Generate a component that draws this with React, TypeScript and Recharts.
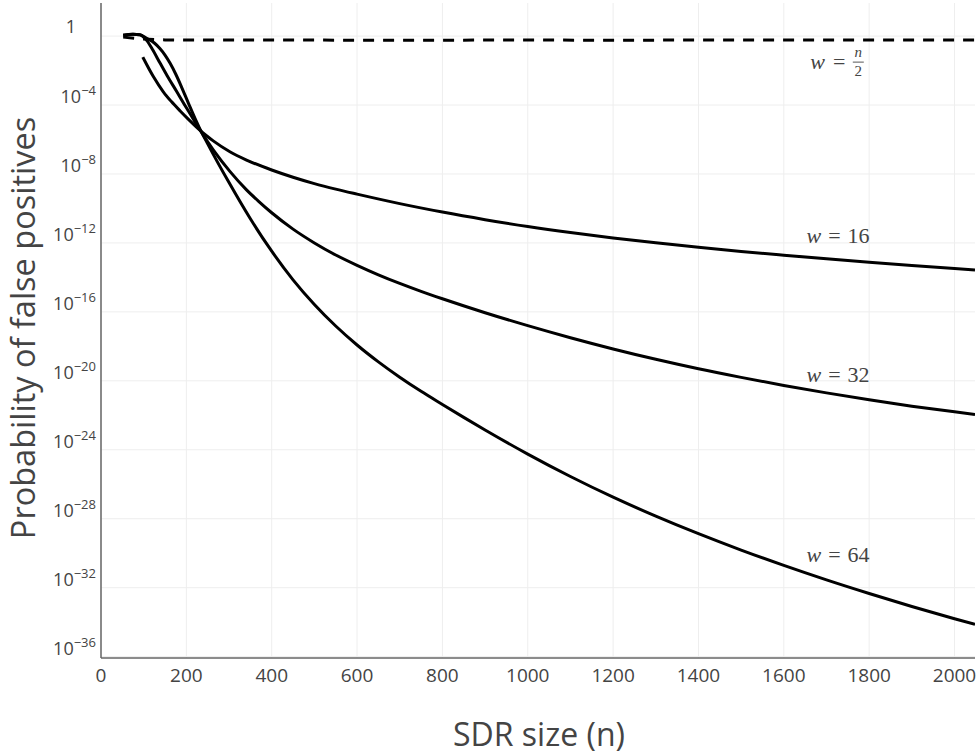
import React from 'react';
import { LineChart, Line, XAxis, YAxis, CartesianGrid, ReferenceDot } from 'recharts';

// SDR size (n) and log10(probability)
const halfN = [52, 100, 150, 200, 300, 400, 500, 600, 700, 800, 900, 1000, 1200, 1400, 1600, 1800, 2000, 2048];
const halfLog = [-0.06, -0.17, -0.22, -0.23, -0.23, -0.23, -0.23, -0.24, -0.24, -0.24, -0.23, -0.23, -0.24, -0.23, -0.23, -0.23, -0.23, -0.23];

const w16N = [98, 123, 146, 165, 185, 205, 227, 245, 263, 302, 341, 400, 450, 500, 550, 600, 700, 800, 900, 1000, 1100, 1200, 1300, 1400, 1500, 1600, 1700, 1800, 1900, 2000, 2048];
const w16Log = [-1.22, -2.36, -3.23, -3.8, -4.33, -4.83, -5.35, -5.74, -6.08, -6.71, -7.19, -7.77, -8.19, -8.56, -8.88, -9.17, -9.72, -10.21, -10.65, -11.05, -11.4, -11.71, -11.99, -12.25, -12.49, -12.71, -12.92, -13.12, -13.31, -13.49, -13.57];

const w32N = [52, 75, 91, 107, 120, 138, 155, 177, 195, 213, 230, 263, 302, 341, 370, 400, 450, 500, 550, 600, 650, 700, 750, 800, 900, 1000, 1100, 1200, 1300, 1400, 1500, 1600, 1700, 1800, 1900, 2000, 2048];
const w32Log = [0.05, 0.1, 0.08, -0.25, -0.75, -1.55, -2.3, -3.2, -3.95, -4.68, -5.38, -6.6, -7.85, -8.92, -9.6, -10.25, -11.2, -12.0, -12.7, -13.3, -13.85, -14.35, -14.81, -15.24, -16.05, -16.8, -17.5, -18.15, -18.75, -19.3, -19.8, -20.27, -20.7, -21.1, -21.47, -21.8, -21.95];

const w64N = [52, 75, 91, 107, 125, 138, 150, 162, 175, 189, 205, 220, 230, 250, 300, 350, 400, 450, 500, 550, 600, 650, 700, 750, 800, 850, 900, 1000, 1100, 1200, 1300, 1400, 1500, 1600, 1700, 1800, 1900, 2000, 2048];
const w64Log = [0.05, 0.1, 0.08, -0.13, -0.4, -0.72, -1.1, -1.58, -2.2, -2.97, -3.9, -4.76, -5.29, -6.25, -8.5, -10.6, -12.48, -14.14, -15.57, -16.82, -17.92, -18.9, -19.79, -20.61, -21.37, -22.12, -22.85, -24.25, -25.55, -26.75, -27.85, -28.87, -29.82, -30.71, -31.55, -32.34, -33.09, -33.8, -34.13];

const xTicks = [0, 200, 400, 600, 800, 1000, 1200, 1400, 1600, 1800, 2000];
const yTickExps = [-36, -32, -28, -24, -20, -16, -12, -8, -4, 0];

// annotation anchors (n, log10 p)
const labelTexts = ['n/2', '16', '32', '64'];
const labelN = [1723, 1727, 1727, 1727];
const labelLog = [-1.51, -11.61, -19.69, -30.08];

const toData = (ns: number[], ls: number[]) => ns.map((n, i) => ({ n, p: Math.pow(10, ls[i]) }));
const halfData = toData(halfN, halfLog);
const w16Data = toData(w16N, w16Log);
const w32Data = toData(w32N, w32Log);
const w64Data = toData(w64N, w64Log);
const yTicks = yTickExps.map((e) => Math.pow(10, e));

const TEXT = '#444';
const FONT = '"Open Sans", sans-serif';
const SERIF = '"Liberation Serif", "DejaVu Serif", serif';

const XTick = (props: any) => {
  const { x, y, payload } = props;
  return (
    <text x={x} y={y + 24} textAnchor="middle" fill={TEXT} fontSize={19} fontFamily={FONT}>
      {payload.value}
    </text>
  );
};

const YTick = (props: any) => {
  const { x, y, payload } = props;
  const e = Math.round(Math.log10(payload.value));
  if (e === 0) {
    return (
      <text x={x - 25} y={y - 3} textAnchor="end" fill={TEXT} fontSize={18} fontFamily={FONT}>
        1
      </text>
    );
  }
  return (
    <text x={x - 5} y={y - 2} textAnchor="end" fill={TEXT} fontSize={18} fontFamily={FONT}>
      10
      <tspan dy={-8} fontSize={13}>{'\u2212' + Math.abs(e)}</tspan>
    </text>
  );
};

const makeLabel = (t: string) => (p: any) => {
  const { cx, cy } = p;
  if (t === 'n/2') {
    return (
      <g fill={TEXT} fontFamily={SERIF}>
        <text x={cx + 9} y={cy + 7} textAnchor="end" fontSize={22}>
          <tspan fontStyle="italic">w</tspan>
          <tspan dx={8}>=</tspan>
        </text>
        <text x={cx + 22} y={cy - 5} textAnchor="middle" fontSize={15} fontStyle="italic">n</text>
        <line x1={cx + 16.5} x2={cx + 27.5} y1={cy} y2={cy} stroke={TEXT} strokeWidth={0.9} />
        <text x={cx + 22} y={cy + 14} textAnchor="middle" fontSize={15}>2</text>
      </g>
    );
  }
  return (
    <text x={cx} y={cy + 7} textAnchor="middle" fill={TEXT} fontFamily={SERIF} fontSize={22}>
      <tspan fontStyle="italic">w</tspan>
      <tspan dx={7}>=</tspan>
      <tspan dx={7}>{t}</tspan>
    </text>
  );
};

export default function App() {
  return (
    <div style={{ position: 'absolute', left: 0, top: 0, width: 979, height: 756, background: '#fff' }}>
      <LineChart width={979} height={756} margin={{ top: 3, right: 4, bottom: 0, left: 0 }}>
        <CartesianGrid stroke="#eee" strokeWidth={1} horizontalValues={yTicks} verticalValues={xTicks} />
        <XAxis
          type="number"
          dataKey="n"
          domain={[0, 2048]}
          allowDataOverflow
          ticks={xTicks}
          tick={<XTick />}
          tickLine={false}
          tickSize={0}
          tickMargin={0}
          height={98}
          axisLine={{ stroke: '#666', strokeWidth: 1.5 }}
        />
        <YAxis
          type="number"
          dataKey="p"
          scale="log"
          domain={[Math.pow(10, -36.08), Math.pow(10, 1.92)]}
          allowDataOverflow
          ticks={yTicks}
          tick={<YTick />}
          tickLine={false}
          tickSize={0}
          tickMargin={0}
          width={101}
          axisLine={{ stroke: '#666', strokeWidth: 1.5 }}
        />
        <Line data={halfData} dataKey="p" type="monotone" stroke="#000" strokeWidth={3} strokeDasharray="11 9" dot={false} isAnimationActive={false} />
        <Line data={w16Data} dataKey="p" type="monotone" stroke="#000" strokeWidth={3} dot={false} isAnimationActive={false} />
        <Line data={w32Data} dataKey="p" type="monotone" stroke="#000" strokeWidth={3} dot={false} isAnimationActive={false} />
        <Line data={w64Data} dataKey="p" type="monotone" stroke="#000" strokeWidth={3} dot={false} isAnimationActive={false} />
        {labelTexts.map((t, i) => (
          <ReferenceDot key={t} x={labelN[i]} y={Math.pow(10, labelLog[i])} r={0} shape={makeLabel(t)} ifOverflow="visible" />
        ))}
        <text x={539} y={746} textAnchor="middle" fill={TEXT} fontSize={32} fontFamily={FONT}>
          SDR size (n)
        </text>
        <text x={35} y={328} textAnchor="middle" fill={TEXT} fontSize={32.5} fontFamily={FONT} transform="rotate(-90, 35, 328)">
          Probability of false positives
        </text>
      </LineChart>
    </div>
  );
}
